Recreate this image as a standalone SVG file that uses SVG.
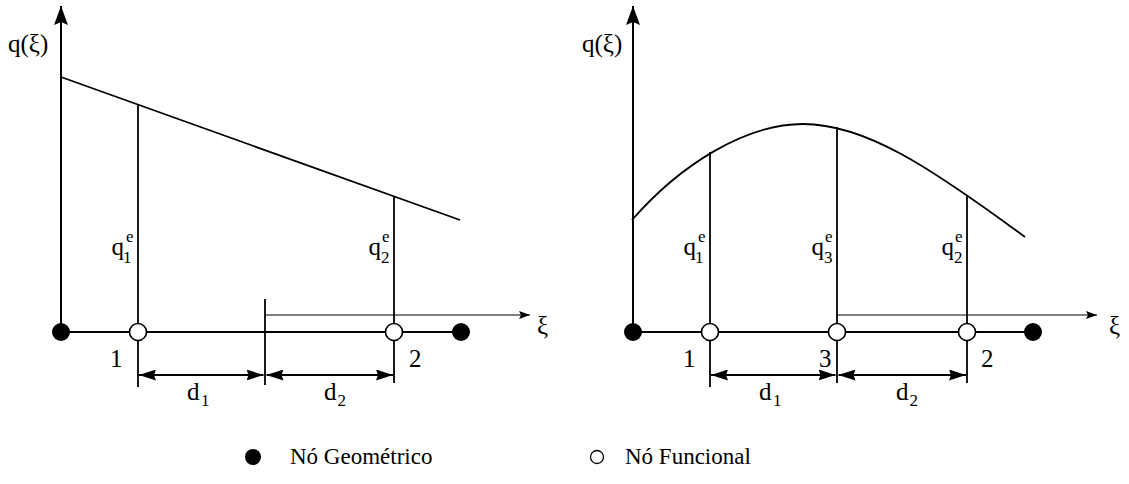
<svg xmlns="http://www.w3.org/2000/svg" width="1129" height="484" viewBox="0 0 1129 484" font-family="'Liberation Serif', 'DejaVu Serif', 'Times New Roman', serif">
<style>
.ax{stroke:#000;stroke-width:2;fill:none}
.thin{stroke:#000;stroke-width:1.2;fill:none}
.ln{stroke:#000;stroke-width:1.8;fill:none}
.dim{stroke:#000;stroke-width:1.8;fill:none;marker-start:url(#da);marker-end:url(#da)}
text{font-family:'Liberation Serif','DejaVu Serif','Times New Roman',serif;fill:#000}
.lbl{font-size:25px}
.q{font-size:25px;text-anchor:end}
.sub{font-size:17px}
.leg{font-size:23px}
.geo{fill:#000}
.fun{fill:#fff;stroke:#000;stroke-width:1.6}
</style>
<defs>
<marker id="ya" markerUnits="userSpaceOnUse" viewBox="0 0 19 14" refX="19" refY="7" markerWidth="19" markerHeight="14" orient="auto">
<path d="M0,0 L19,7 L0,14 L3,7 z" fill="#000"/>
</marker>
<marker id="xa" markerUnits="userSpaceOnUse" viewBox="0 0 11 8" refX="11" refY="4" markerWidth="11" markerHeight="8" orient="auto">
<path d="M0,0 L11,4 L0,8 L2,4 z" fill="#000"/>
</marker>
<marker id="da" markerUnits="userSpaceOnUse" viewBox="0 0 17 11" refX="17" refY="5.5" markerWidth="17" markerHeight="11" orient="auto-start-reverse">
<path d="M0,0 L17,5.5 L0,11 L2,5.5 z" fill="#000"/>
</marker>
</defs>

<g id="connectors">
<line class="ax" x1="61" y1="332" x2="61" y2="6" marker-end="url(#ya)"/>
<line class="ln" x1="61" y1="77" x2="460" y2="220"/>
<line class="ln" x1="138" y1="104.6" x2="138" y2="387"/>
<line class="ln" x1="394" y1="196" x2="394" y2="383"/>
<line class="ln" x1="265" y1="299" x2="265" y2="385"/>
<line class="thin" x1="265" y1="315" x2="530" y2="315" marker-end="url(#xa)"/>
<line class="ax" x1="61" y1="332" x2="461" y2="332"/>
<line class="dim" x1="139" y1="375" x2="263.5" y2="375"/>
<line class="dim" x1="266.5" y1="375" x2="393" y2="375"/>
<line class="ax" x1="633" y1="332" x2="633" y2="6" marker-end="url(#ya)"/>
<path class="ln" d="M632,220 C680,165 745,124 803,124 C865,124 930,167 1025,237"/>
<line class="ln" x1="710" y1="152" x2="710" y2="387"/>
<line class="ln" x1="837" y1="127" x2="837" y2="383"/>
<line class="ln" x1="967" y1="195" x2="967" y2="383"/>
<line class="thin" x1="837" y1="315" x2="1097" y2="315" marker-end="url(#xa)"/>
<line class="ax" x1="633" y1="332" x2="1033" y2="332"/>
<line class="dim" x1="711" y1="375" x2="835.5" y2="375"/>
<line class="dim" x1="838.5" y1="375" x2="966" y2="375"/>
</g>

<g id="left-axis-labels">
<text class="lbl" x="8" y="52">q(ξ)</text>
<text class="lbl" x="537" y="334">ξ</text>
</g>
<g id="right-axis-labels">
<text class="lbl" x="582" y="52">q(ξ)</text>
<text class="lbl" x="1109" y="334">ξ</text>
</g>

<g id="left-geo-start"><circle class="geo" cx="61" cy="332" r="9"/></g>
<g id="left-node-1">
<circle class="fun" cx="138" cy="332" r="8.5"/>
<text class="lbl" x="110" y="367">1</text>
<text class="q" x="124" y="255">q</text><text class="sub" x="123" y="263">1</text><text class="sub" x="126" y="242">e</text>
</g>
<g id="left-node-2">
<circle class="fun" cx="394" cy="332" r="8.5"/>
<text class="lbl" x="409" y="367">2</text>
<text class="q" x="381" y="255">q</text><text class="sub" x="381" y="263">2</text><text class="sub" x="382" y="242">e</text>
</g>
<g id="left-geo-end"><circle class="geo" cx="461" cy="332" r="9"/></g>
<g id="left-dims">
<text class="lbl" x="187" y="400">d</text><text class="sub" x="201" y="406">1</text>
<text class="lbl" x="324" y="400">d</text><text class="sub" x="337.5" y="406">2</text>
</g>

<g id="right-geo-start"><circle class="geo" cx="633" cy="332" r="9"/></g>
<g id="right-node-1">
<circle class="fun" cx="710" cy="332" r="8.5"/>
<text class="lbl" x="683" y="367">1</text>
<text class="q" x="696" y="255">q</text><text class="sub" x="695" y="263">1</text><text class="sub" x="698" y="242">e</text>
</g>
<g id="right-node-3">
<circle class="fun" cx="837" cy="332" r="8.5"/>
<text class="lbl" x="819" y="367">3</text>
<text class="q" x="824" y="255">q</text><text class="sub" x="824" y="263">3</text><text class="sub" x="825" y="242">e</text>
</g>
<g id="right-node-2">
<circle class="fun" cx="967" cy="332" r="8.5"/>
<text class="lbl" x="981" y="367">2</text>
<text class="q" x="954" y="255">q</text><text class="sub" x="954" y="263">2</text><text class="sub" x="955" y="242">e</text>
</g>
<g id="right-geo-end"><circle class="geo" cx="1033" cy="332" r="9"/></g>
<g id="right-dims">
<text class="lbl" x="759" y="400">d</text><text class="sub" x="773" y="406">1</text>
<text class="lbl" x="896" y="400">d</text><text class="sub" x="909.5" y="406">2</text>
</g>

<g id="legend-geo">
<circle class="geo" cx="253" cy="457" r="8"/>
<text class="leg" x="290" y="464">Nó Geométrico</text>
</g>
<g id="legend-fun">
<circle class="fun" cx="597" cy="457" r="6.5" style="stroke-width:1.3"/>
<text class="leg" x="625" y="464">Nó Funcional</text>
</g>
</svg>
